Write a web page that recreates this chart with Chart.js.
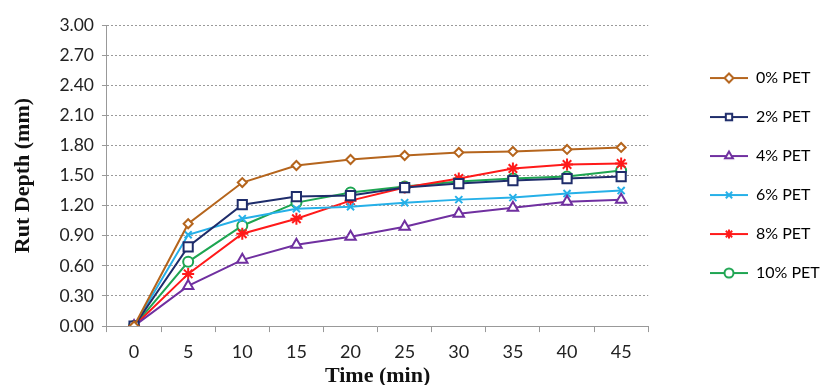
<!DOCTYPE html>
<html>
<head>
<meta charset="utf-8">
<script src="https://cdn.jsdelivr.net/npm/chart.js@4"></script>
<style>
  html, body { margin: 0; padding: 0; background: #fff; }
  #wrap { width: 823px; height: 385px; }
</style>
</head>
<body>
<div id="wrap"><canvas id="rutChart" width="823" height="385"></canvas></div>
<script>
// Chart data
const timeLabels = ['0', '5', '10', '15', '20', '25', '30', '35', '40', '45'];
const seriesNames = ['0% PET', '2% PET', '4% PET', '6% PET', '8% PET', '10% PET'];
const pet0 = [0, 1.02, 1.43, 1.60, 1.66, 1.70, 1.73, 1.74, 1.76, 1.78];
const pet2 = [0, 0.79, 1.21, 1.29, 1.30, 1.38, 1.42, 1.45, 1.47, 1.49];
const pet4 = [0, 0.40, 0.66, 0.81, 0.89, 0.99, 1.12, 1.18, 1.24, 1.26];
const pet6 = [0, 0.91, 1.07, 1.17, 1.19, 1.23, 1.26, 1.28, 1.32, 1.35];
const pet8 = [0, 0.52, 0.92, 1.07, 1.25, 1.38, 1.47, 1.57, 1.61, 1.62];
const pet10 = [0, 0.64, 1.00, 1.23, 1.33, 1.39, 1.44, 1.47, 1.49, 1.55];
const yTicks = [0, 0.3, 0.6, 0.9, 1.2, 1.5, 1.8, 2.1, 2.4, 2.7, 3.0];

const seriesValues = [pet0, pet2, pet4, pet6, pet8, pet10];
const seriesColors = ['#B5651D', '#1F2D6B', '#7030A0', '#26B0E8', '#FF1A1A', '#1EA552'];
const seriesMarkers = ['rectRot', 'rect', 'triangle', 'crossRot', 'star', 'circle'];
const seriesRadius = [4.5, 6.5, 6, 5, 6, 5];

// Legend swatch: short line with marker in the middle
const makeSwatch = (i) => {
    const c = document.createElement('canvas');
    c.width = 38;
    c.height = 16;
    const ctx = c.getContext('2d');
    ctx.strokeStyle = seriesColors[i];
    ctx.lineWidth = 2;
    ctx.beginPath();
    ctx.moveTo(0, 8);
    ctx.lineTo(38, 8);
    ctx.stroke();
    ctx.fillStyle = '#fff';
    Chart.helpers.drawPoint(ctx, {
        pointStyle: seriesMarkers[i],
        radius: 4.5,
        rotation: 0,
        borderWidth: 2
    }, 19, 8);
    return c;
};

const datasets = seriesNames.map((name, i) => ({
    label: name,
    data: seriesValues[i],
    borderColor: seriesColors[i],
    backgroundColor: '#ffffff',
    borderWidth: 2,
    pointStyle: seriesMarkers[i],
    pointRadius: seriesRadius[i],
    pointBorderWidth: 2,
    pointBackgroundColor: '#ffffff',
    pointBorderColor: seriesColors[i],
    tension: 0
}));

const yTickFont = { family: 'Lato, sans-serif', size: 17.5 };
const xTickFont = { family: 'Lato, sans-serif', size: 18, lineHeight: 1 };
const yTitleFont = { family: '"Liberation Serif", serif', size: 22, weight: 'bold' };
const xTitleFont = { family: '"Liberation Serif", serif', size: 22, weight: 'bold', lineHeight: 0.36 };

new Chart(document.getElementById('rutChart'), {
    type: 'line',
    data: { labels: timeLabels, datasets },
    options: {
        responsive: false,
        animation: false,
        layout: { padding: { top: 25, right: 32, left: 8, bottom: 0 } },
        plugins: {
            tooltip: { enabled: false },
            legend: {
                position: 'right',
                labels: {
                    usePointStyle: true,
                    pointStyleWidth: 38,
                    boxHeight: 16,
                    padding: 23,
                    color: '#222',
                    font: { family: 'Lato, sans-serif', size: 16 },
                    generateLabels: (chart) => chart.data.datasets.map((ds, i) => ({
                        text: ds.label,
                        pointStyle: makeSwatch(i),
                        fillStyle: '#fff',
                        strokeStyle: ds.borderColor,
                        lineWidth: 0,
                        hidden: false,
                        datasetIndex: i
                    }))
                }
            }
        },
        scales: {
            x: {
                offset: true,
                grid: {
                    offset: true,
                    drawOnChartArea: false,
                    drawTicks: true,
                    tickLength: 6,
                    color: '#999'
                },
                border: { color: '#999' },
                ticks: { color: '#222', font: xTickFont, padding: 11 },
                title: {
                    display: true,
                    text: 'Time (min)',
                    color: '#111',
                    font: xTitleFont,
                    padding: { top: 0, bottom: 5 }
                }
            },
            y: {
                min: 0,
                max: 3,
                afterBuildTicks: (axis) => {
                    axis.ticks = yTicks.map(v => ({ value: v }));
                },
                grid: {
                    color: '#9a9a9a',
                    lineWidth: 1,
                    tickLength: 5,
                    drawTicks: true,
                    tickColor: '#999'
                },
                border: { color: '#999', dash: [2, 2] },
                ticks: {
                    color: '#222',
                    font: yTickFont,
                    padding: 8,
                    callback: (v) => Number(v).toFixed(2)
                },
                title: {
                    display: true,
                    text: 'Rut Depth (mm)',
                    color: '#111',
                    font: yTitleFont,
                    padding: { top: 2, bottom: 15 }
                }
            }
        }
    },
    plugins: [{
        // place the legend like the original: fixed left edge, centred on the plot
        id: 'legendPlace',
        afterLayout: (chart) => {
            const lg = chart.legend;
            const shift = 687 - lg.left;
            lg.left += shift;
            lg.right += shift;
            lg.top = chart.chartArea.top;
            lg.bottom = chart.chartArea.bottom;
        }
    }]
});
</script>
</body>
</html>
